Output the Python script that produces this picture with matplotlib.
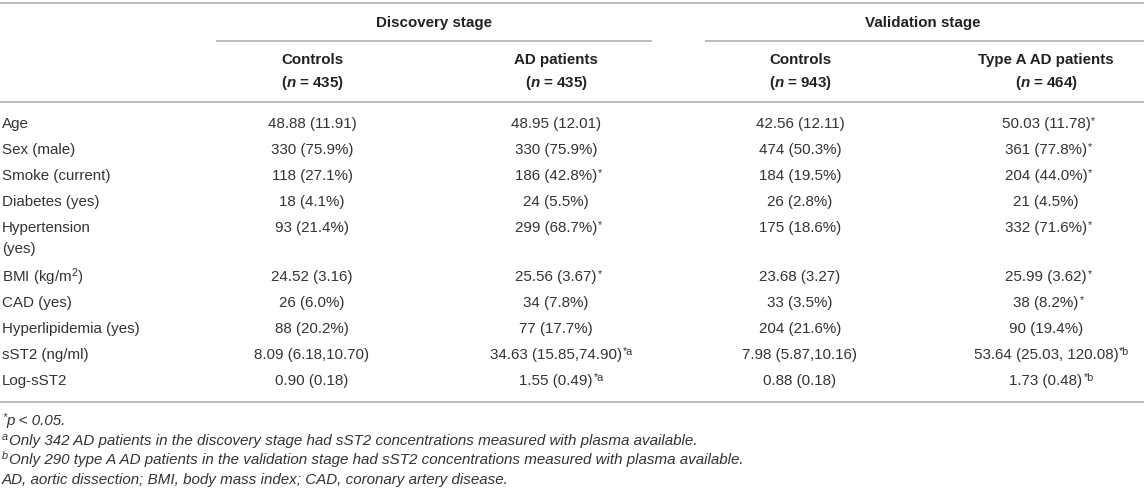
import matplotlib
matplotlib.use("Agg")
import matplotlib.pyplot as plt

plt.rcParams['font.family'] = ['Liberation Sans', 'DejaVu Sans']
plt.rcParams['mathtext.fontset'] = 'custom'
plt.rcParams['mathtext.rm'] = 'Liberation Sans'
plt.rcParams['mathtext.it'] = 'Liberation Sans:italic'
plt.rcParams['mathtext.bf'] = 'Liberation Sans:bold'
plt.rcParams['mathtext.bfit'] = 'Liberation Sans:italic:bold'

# ---------------- data ----------------
stages = ["Discovery stage", "Validation stage"]
groups = ["Controls", "AD patients", "Controls", "Type A AD patients"]
group_n = [435, 435, 943, 464]
variables = ["Age", "Sex (male)", "Smoke (current)", "Diabetes (yes)",
             "Hypertension\n(yes)", "BMI (kg/m$^{2}$)", "CAD (yes)",
             "Hyperlipidemia (yes)", "sST2 (ng/ml)", "Log-sST2"]
disc_controls = ["48.88 (11.91)", "330 (75.9%)", "118 (27.1%)", "18 (4.1%)",
                 "93 (21.4%)", "24.52 (3.16)", "26 (6.0%)", "88 (20.2%)",
                 "8.09 (6.18,10.70)", "0.90 (0.18)"]
disc_ad = ["48.95 (12.01)", "330 (75.9%)", "186 (42.8%)", "24 (5.5%)",
           "299 (68.7%)", "25.56 (3.67)", "34 (7.8%)", "77 (17.7%)",
           "34.63 (15.85,74.90)", "1.55 (0.49)"]
disc_ad_sig = ["", "", "*", "", "*", "*", "", "", "*a", "*a"]
val_controls = ["42.56 (12.11)", "474 (50.3%)", "184 (19.5%)", "26 (2.8%)",
                "175 (18.6%)", "23.68 (3.27)", "33 (3.5%)", "204 (21.6%)",
                "7.98 (5.87,10.16)", "0.88 (0.18)"]
val_ad = ["50.03 (11.78)", "361 (77.8%)", "204 (44.0%)", "21 (4.5%)",
          "332 (71.6%)", "25.99 (3.62)", "38 (8.2%)", "90 (19.4%)",
          "53.64 (25.03, 120.08)", "1.73 (0.48)"]
val_ad_sig = ["*", "*", "*", "", "*", "*", "*", "", "*b", "*b"]
footnote_marks = ["*", "a", "b", ""]
footnotes = ["p < 0.05.",
             "Only 342 AD patients in the discovery stage had sST2 concentrations measured with plasma available.",
             "Only 290 type A AD patients in the validation stage had sST2 concentrations measured with plasma available.",
             "AD, aortic dissection; BMI, body mass index; CAD, coronary artery disease."]

columns = [disc_controls, disc_ad, val_controls, val_ad]
col_sig = [[""] * 10, disc_ad_sig, [""] * 10, val_ad_sig]

# ---------------- layout ----------------
W, H = 1144, 492
fig = plt.figure(figsize=(W / 100, H / 100), dpi=100)
ax = fig.add_axes([0, 0, 1, 1])
ax.set_xlim(0, W)
ax.set_ylim(H, 0)
ax.axis('off')

FS = 10.9
SUP = 7.8
BODY = '#333333'
HEAD = '#222222'
RULE = '#b5b5b5'
LW = 1.3

col_x = [312, 556, 800, 1046]
stage_x = [434, 923]
stage_span = [(216, 652), (705, W)]

def rule(x0, x1, y):
    ax.plot([x0, x1], [y, y], color=RULE, lw=LW, solid_capstyle='butt')

rule(0, W, 3)
for (a, b), sx, name in zip(stage_span, stage_x, stages):
    ax.text(sx, 23, name, ha='center', va='center', fontsize=FS,
            fontweight='bold', color=HEAD)
    rule(a, b, 41)
for cx, g, n in zip(col_x, groups, group_n):
    ax.text(cx, 60, g, ha='center', va='center', fontsize=FS,
            fontweight='bold', color=HEAD)
    ax.text(cx, 83, r"($\mathbfit{n}$ = %d)" % n, ha='center', va='center',
            fontsize=FS, fontweight='bold', color=HEAD)
rule(0, W, 102)

def val_text(x, y, s, sup):
    t = ax.text(x, y, s, ha='center', va='center', fontsize=FS, color=BODY)
    if sup:
        ax.annotate(sup, xy=(1, 1), xycoords=t, xytext=(0.6, 0.8),
                    textcoords='offset points', ha='left', va='top',
                    fontsize=SUP, color=BODY)

y = 124
step = 26
for i, var in enumerate(variables):
    ax.text(2, y, var.split("\n")[0], ha='left', va='center', fontsize=FS, color=BODY)
    extra = var.split("\n")[1:]
    for j, e in enumerate(extra):
        ax.text(2, y + 21 * (j + 1), e, ha='left', va='center', fontsize=FS, color=BODY)
    for cx, col, sig in zip(col_x, columns, col_sig):
        val_text(cx, y, col[i], sig[i])
    y += step + 23 * len(extra)

rule(0, W, 402)

fy = [421, 441, 460, 480]
for mark, note, yy in zip(footnote_marks, footnotes, fy):
    if mark:
        m = ax.text(2, yy - 4, mark, ha='left', va='center', fontsize=SUP,
                    style='italic', color=BODY)
        ax.annotate(note, xy=(1, yy), xycoords=(m, 'data'), xytext=(0.4, 0),
                    textcoords='offset points', ha='left', va='center',
                    fontsize=FS, style='italic', color=BODY)
    else:
        ax.text(2, yy, note, ha='left', va='center', fontsize=FS,
                style='italic', color=BODY)

fig.savefig("out.png", dpi=100)
